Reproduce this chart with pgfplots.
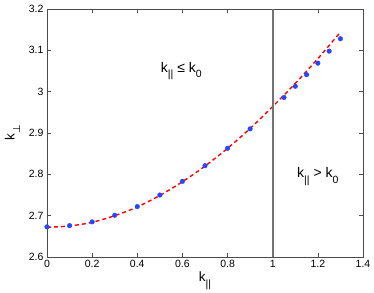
\documentclass[border=0pt]{standalone}
\usepackage{pgfplots}
\pgfplotsset{compat=1.18}
\usepackage{fontspec}
\setmainfont{Liberation Sans}
\newfontfamily\dejavu{DejaVu Sans}
\newcommand{\sub}[1]{\raisebox{-0.4em}{\fontsize{10.5}{12}\selectfont #1}}
\begin{document}
\begin{tikzpicture}
\begin{axis}[
  name=ax,
  scale only axis,
  width=316pt, height=248pt,
  at={(0,0)}, anchor=south west,
  xmin=0, xmax=1.4, ymin=2.6, ymax=3.2,
  xtick={0,0.2,...,1.4},
  ytick={2.6,2.7,...,3.2},
  tick align=inside,
  tick pos=both,
  major tick length=4pt,
  tick style={black!70, line width=0.5pt},
  axis line style={black!70, line width=0.6pt},
  /pgf/number format/assume math mode=true,
  tick label style={font=\fontsize{10.5}{12}\selectfont},
  xlabel={\fontsize{13.5}{15}\selectfont k\sub{||}},
  ylabel={\fontsize{13.5}{15}\selectfont k\sub{\dejavu\fontsize{10}{11}\selectfont ⊥}},
  xlabel style={yshift=3pt},
  ylabel style={yshift=2pt},
  clip=false,
]
\addplot[red, line width=1.4pt, smooth, dash pattern=on 4pt off 3pt] coordinates {
(0,2.672) (0.1,2.675) (0.2,2.684) (0.3,2.700) (0.4,2.721) (0.5,2.749) (0.6,2.782)
(0.7,2.820) (0.8,2.863) (0.9,2.911) (1.0,2.964) (1.1,3.020) (1.2,3.080) (1.3,3.144)
};
\addplot[only marks, mark=*, mark size=2.3pt, color={rgb,255:red,40;green,70;blue,255}] coordinates {
(0,2.673) (0.1,2.676) (0.2,2.685) (0.3,2.701) (0.4,2.722) (0.5,2.750) (0.6,2.783)
(0.7,2.821) (0.8,2.863) (0.9,2.910)
(1.05,2.986) (1.1,3.013) (1.15,3.041) (1.2,3.069) (1.25,3.098) (1.3,3.128)
};
\addplot[black!55, line width=1.6pt] coordinates {(1,2.6) (1,3.2)};
\node[font=\fontsize{14}{16}\selectfont] at (axis cs:0.595,3.05) {k\sub{||} ≤ k\sub{0}};
\node[font=\fontsize{14}{16}\selectfont] at (axis cs:1.2,2.795) {k\sub{||} > k\sub{0}};
\end{axis}
\pgfresetboundingbox
\path[use as bounding box] (-47pt,-35pt) rectangle (327pt,257pt);
\end{tikzpicture}
\end{document}
